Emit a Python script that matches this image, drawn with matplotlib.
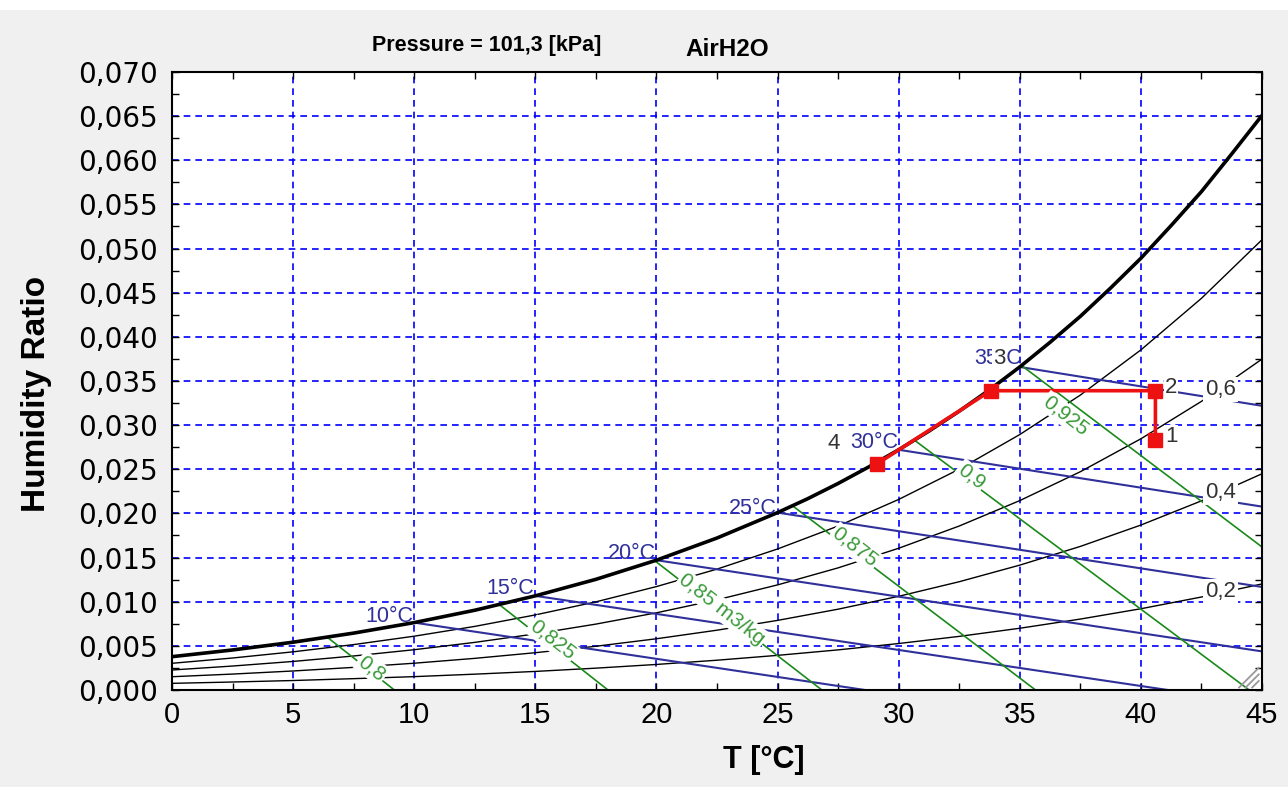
import matplotlib
matplotlib.use("Agg")
import matplotlib.pyplot as plt
from matplotlib.ticker import FuncFormatter, MultipleLocator
from matplotlib.patches import Rectangle

# ---- data ----
T_grid = [0, 2.5, 5, 7.5, 10, 12.5, 15, 17.5, 20, 22.5, 25, 27.5, 30, 32.5, 35, 37.5, 40, 42.5, 45]

# saturation curve (denser where it bends)
T_sat = [0, 2.5, 5, 7.5, 10, 12.5, 15, 17.5, 20, 22.5, 25, 26.25, 27.5, 28.75, 30, 31.25, 32.5,
         33.75, 35, 36.25, 37.5, 38.75, 40, 41.25, 42.5, 43.75, 45]
w_sat = [0.00377, 0.00453, 0.00541, 0.00644, 0.00763, 0.00903, 0.01066, 0.01253, 0.01470, 0.01721,
         0.02009, 0.02167, 0.02339, 0.02524, 0.02721, 0.02932, 0.03158, 0.03400, 0.03659, 0.03938,
         0.04232, 0.04553, 0.04890, 0.05261, 0.05645, 0.06072, 0.06508]

# relative humidity lines
w_rh80 = [0.00302, 0.00362, 0.00432, 0.00514, 0.00609, 0.00720, 0.00850, 0.00998, 0.01171, 0.01369,
          0.01597, 0.01857, 0.02158, 0.02501, 0.02893, 0.03340, 0.03852, 0.04436, 0.05100]
w_rh60 = [0.00226, 0.00271, 0.00323, 0.00385, 0.00456, 0.00539, 0.00635, 0.00746, 0.00874, 0.01021,
          0.01190, 0.01383, 0.01605, 0.01857, 0.02145, 0.02472, 0.02845, 0.03269, 0.03748]
w_rh40 = [0.00150, 0.00180, 0.00215, 0.00256, 0.00303, 0.00358, 0.00422, 0.00495, 0.00580, 0.00677,
          0.00788, 0.00915, 0.01061, 0.01226, 0.01414, 0.01626, 0.01868, 0.02142, 0.02449]
w_rh20 = [0.00075, 0.00090, 0.00107, 0.00128, 0.00151, 0.00179, 0.00210, 0.00247, 0.00289, 0.00337,
          0.00392, 0.00454, 0.00526, 0.00607, 0.00699, 0.00803, 0.00920, 0.01053, 0.01201]
rh_lines = [w_rh80, w_rh60, w_rh40, w_rh20]
rh_labels = ["0,2", "0,4", "0,6"]
rh_label_T = [43.3, 43.3, 43.3]
rh_label_w = [0.0112, 0.0224, 0.0340]

# wet bulb lines (start on saturation, end at w=0 or T=45)
wb_names = ["10°C", "15°C", "20°C", "25°C", "30°C", "35°C"]
wb_T = [[10, 28.6], [15, 41.1], [20, 45], [25, 45], [30, 45], [35, 45]]
wb_w = [[0.00763, 0.0], [0.01066, 0.0], [0.01470, 0.00437], [0.02009, 0.01167],
        [0.02721, 0.02077], [0.03659, 0.03219]]
wb_label_T = [9.95, 14.95, 20.0, 24.95, 30.0, 35.1]
wb_label_w = [0.0083, 0.01155, 0.0155, 0.0206, 0.0280, 0.0376]

# specific volume lines
sv_names = ["0,8", "0,825", "0,85 m3/kg", "0,875", "0,9", "0,925"]
sv_T = [[6.4, 9.18], [13.5, 18.0], [19.95, 26.83], [25.65, 35.65], [30.65, 44.47], [35.1, 45]]
sv_w = [[0.0060, 0.0], [0.0097, 0.0], [0.0146, 0.0], [0.0208, 0.0], [0.0283, 0.0], [0.0367, 0.0162]]
sv_label_T = [8.25, 15.7, 22.7, 28.2, 33.0, 36.9]
sv_label_w = [0.00246, 0.00566, 0.0091, 0.0162, 0.0242, 0.0311]

# process states 1 -> 2 -> 3 -> 4
state_names = ["1", "2", "3", "4"]
state_T = [40.6, 40.6, 33.8, 29.1]
state_w = [0.0283, 0.0339, 0.0339, 0.0256]
state_label_T = [41.0, 41.0, 34.15, 27.3]
state_label_w = [0.0287, 0.0343, 0.0376, 0.0279]

# ---- figure ----
fig = plt.figure(figsize=(12.88, 7.87), dpi=100, facecolor="#f0f0f0")
fig.patches.append(Rectangle((0, 1 - 10 / 787), 1, 10 / 787, transform=fig.transFigure,
                             facecolor="white", edgecolor="none"))
ax = fig.add_axes([0.1335, 0.1233, 0.8463, 0.7852])
ax.set_facecolor("white")

ax.set_xlim(0, 45)
ax.set_ylim(0, 0.070)
ax.xaxis.set_major_locator(MultipleLocator(5))
ax.xaxis.set_minor_locator(MultipleLocator(2.5))
ax.yaxis.set_major_locator(MultipleLocator(0.005))
ax.yaxis.set_minor_locator(MultipleLocator(0.0025))
ax.yaxis.set_major_formatter(FuncFormatter(lambda v, p: f"{v:.3f}".replace(".", ",")))
ax.xaxis.set_major_formatter(FuncFormatter(lambda v, p: f"{v:.0f}"))
ax.tick_params(which="both", direction="in", top=True, right=True, length=5, width=1, color="black")
ax.tick_params(axis="y", pad=10, labelsize=20)
ax.tick_params(axis="x", pad=8, labelsize=21)
for lab in ax.get_yticklabels():
    lab.set_family("DejaVu Sans")
for lab in ax.get_xticklabels():
    lab.set_family("Liberation Sans")
for s in ax.spines.values():
    s.set_linewidth(1.5)

ax.grid(True, which="major", color="#0000ff", linestyle=(0, (4, 3)), linewidth=1.2, zorder=0.5)
ax.set_axisbelow(True)

# RH lines
for w in rh_lines:
    ax.plot(T_grid, w, color="black", lw=1.0, zorder=2)
# saturation
ax.plot(T_sat, w_sat, color="black", lw=2.6, zorder=3)

# wet bulb
for Ts, ws in zip(wb_T, wb_w):
    ax.plot(Ts, ws, color="#30309a", lw=1.5, zorder=2)
for name, x, y in zip(wb_names, wb_label_T, wb_label_w):
    ax.text(x, y, name, color="#30309a", fontsize=15.5, ha="right", va="center",
            family="Liberation Sans", zorder=5)

# specific volume
for Ts, ws in zip(sv_T, sv_w):
    ax.plot(Ts, ws, color="#1a8a1a", lw=1.2, zorder=2)
for name, x, y in zip(sv_names, sv_label_T, sv_label_w):
    ax.text(x, y, name, color="#3a9a3a", fontsize=15, ha="center", va="center", rotation=-38,
            rotation_mode="anchor", family="Liberation Sans", zorder=6,
            bbox=dict(facecolor="white", edgecolor="none", pad=1))

for name, x, y in zip(rh_labels, rh_label_T, rh_label_w):
    ax.text(x, y, name, color="#333333", fontsize=16, ha="center", va="center",
            family="Liberation Sans", zorder=6,
            bbox=dict(facecolor="white", edgecolor="none", pad=1.5))

# process
ax.plot(state_T, state_w, color="#ee1111", lw=2.6, zorder=4, solid_capstyle="butt")
ax.plot(state_T, state_w, "s", color="#ee1111", ms=10, zorder=7, linestyle="none")
for name, x, y, ha in zip(state_names, state_label_T, state_label_w, ["left", "left", "center", "center"]):
    ax.text(x, y, name, color="#333333", fontsize=16, ha=ha, va="center",
            family="Liberation Sans", zorder=7,
            bbox=dict(facecolor="white", edgecolor="none", pad=0.5))

# resize grip in the corner
aspect = 1090 / 618
for d in [0.006, 0.012, 0.018]:
    ax.plot([0.997 - d, 0.997], [0.004, 0.004 + d * aspect],
            transform=ax.transAxes, color="#999999", lw=1.3, zorder=8, clip_on=False)

fig.text(0.378, 0.9416, "Pressure = 101,3 [kPa]", fontsize=15.5, fontweight="bold",
         family="Liberation Sans", ha="center", va="center")
fig.text(0.5645, 0.9365, "AirH2O", fontsize=17.5, fontweight="bold",
         family="Liberation Sans", ha="center", va="center")
fig.text(0.0287, 0.50, "Humidity Ratio", fontsize=24, fontweight="bold", rotation=90,
         family="Liberation Sans", ha="center", va="center")
fig.text(0.593, 0.034, "T [°C]", fontsize=22, fontweight="bold",
         family=["Liberation Sans Narrow", "Liberation Sans"], ha="center", va="center")

fig.savefig("out.png", dpi=100, facecolor=fig.get_facecolor())
